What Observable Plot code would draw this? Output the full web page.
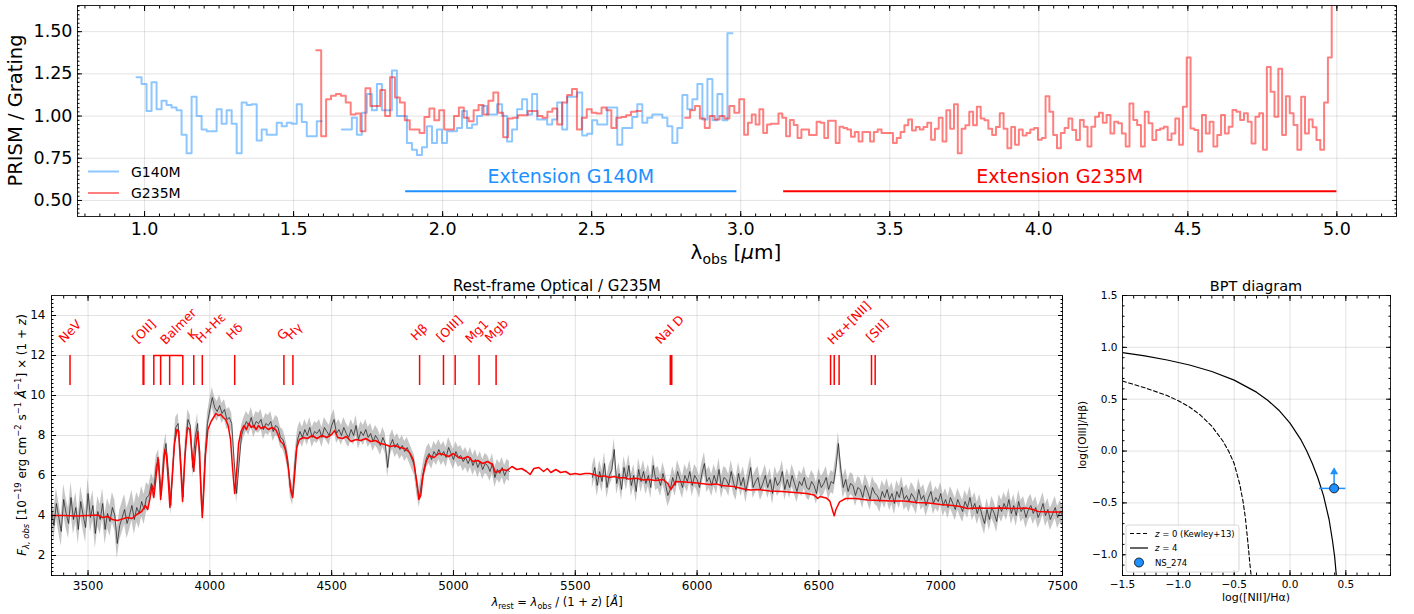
<!DOCTYPE html>
<html><head><meta charset="utf-8">
<script src="https://cdn.jsdelivr.net/npm/d3@7"></script>
<script src="https://cdn.jsdelivr.net/npm/@observablehq/plot@0.6"></script>
<style>
body{margin:0;background:#fff;}
#wrap{position:relative;width:1414px;height:614px;overflow:hidden;background:#fff;}
</style></head><body><div id="wrap"></div>
<script>
// ================= DATA =================
// --- Top panel: PRISM / Grating ratio (binned) ---
const g140mStart = 0.973, g140mStep = 0.0168;
const g140mRatio = [
 1.23,1.19,1.03,1.20,1.04,1.09,1.065,1.05,1.035,0.89,
 0.78,1.115,1.00,0.92,0.91,0.91,1.04,0.955,1.035,0.955,
 0.78,1.08,1.065,1.07,0.855,0.92,0.89,0.89,0.96,0.94,
 0.96,0.955,1.07,0.965,0.88,0.88,0.97,null,null,null,
 null,0.92,0.92,0.99,0.89,1.02,1.13,1.035,1.19,1.035,
 1.035,1.27,1.00,1.00,0.84,0.80,0.77,0.815,0.94,0.84,
 0.92,0.84,0.91,0.91,0.93,1.03,0.93,0.95,1.00,1.06,
 1.01,1.01,1.07,1.00,0.85,0.92,1.04,1.10,1.01,1.13,
 0.98,0.98,0.95,0.98,1.08,0.92,1.115,1.115,1.14,0.885,
 0.895,0.975,0.95,0.95,1.05,1.05,0.83,0.93,0.93,0.995,
 1.07,0.96,0.99,1.01,1.01,0.99,0.94,0.84,0.93,1.125,
 1.04,1.10,1.19,0.98,1.22,0.975,1.13,0.975,1.49
];
const g235mStartA = 1.576, g235mStepA = 0.0165;
const g235mRatioA = [
 1.39,0.88,1.10,1.12,1.13,1.12,1.08,1.01,1.015,0.91,
 1.165,1.06,1.06,1.155,1.00,1.23,1.11,1.08,0.975,0.92,
 0.92,0.90,0.995,1.045,0.975,1.035,0.92,0.92,1.00,1.05,
 0.99,0.97,1.035,1.065,1.01,1.09,1.14,1.02,0.875,0.985,
 0.99,1.005,1.005,1.03,1.03,1.00,0.99,1.025,1.045,0.95,
 1.08,1.125,1.16,0.92,0.99,1.04,1.02,1.015,1.05,1.035,
 0.93,0.99,0.995,1.005,1.025,1.03,null,null,null,null,
 null,null,null,null,null,0.99,1.035,1.06,0.985,0.93,
 1.00,0.98,1.00,0.985,1.06,1.02,1.10
];
const g235mStartB = 3.0115, g235mStepB = 0.0128;
const g235mRatioB = [
 0.89,0.96,1.01,0.95,1.04,0.90,0.95,0.955,0.955,1.015,
 0.99,0.88,0.976,0.947,0.87,0.92,0.92,0.888,0.888,0.966,
 0.96,0.87,0.972,0.972,0.84,0.937,0.93,0.92,0.878,0.905,
 0.85,0.905,0.905,0.85,0.905,0.92,0.90,0.90,0.90,0.84,
 0.87,0.905,0.945,0.98,0.915,0.935,0.92,0.935,0.96,0.86,
 0.925,0.99,0.85,1.035,0.925,1.07,0.78,0.925,0.945,1.026,
 0.945,1.055,0.985,0.975,0.925,0.888,0.935,1.016,0.925,0.81,
 0.935,0.83,0.92,0.885,0.90,0.92,0.93,0.86,0.87,1.118,
 1.025,0.888,0.81,0.90,0.93,0.986,0.917,0.858,0.976,0.937,
 0.82,0.937,0.996,1.02,0.96,1.006,0.897,0.966,0.957,0.897,
 0.82,1.075,0.976,0.947,0.82,1.026,0.957,0.858,0.917,0.927,
 0.937,0.858,0.897,0.986,0.83,1.055,1.347,0.927,0.917,0.79,
 1.006,0.897,0.966,0.82,0.888,1.006,0.897,0.937,1.036,1.026,
 0.976,1.016,0.966,0.838,0.996,1.016,0.80,1.29,1.144,0.996,
 1.28,0.888,1.118,1.016,0.947,0.80,1.115,0.897,0.98,0.933,
 0.858,0.80,1.08,1.347,1.9
];
const extensions = [
 {grating:"G140M", x1:1.876, x2:2.987, y:0.555, labelX:2.43, labelY:0.64},
 {grating:"G235M", x1:3.144, x2:5.0, y:0.555, labelX:4.07, labelY:0.64}
];
const topXTicks = [1.0,1.5,2.0,2.5,3.0,3.5,4.0,4.5,5.0];
const topYTicks = [0.5,0.75,1.0,1.25,1.5];

// --- Bottom-left: rest-frame optical spectrum ---
const obsStartA = 3350, obsStartB = 5570, obsStep = 10;
const obsFluxA = [
 4.3,3.5,4.6,3.9,3.2,4.8,4.1,3.6,4.9,3.8,
 4.4,3.3,4.7,4.0,3.4,5.1,3.9,4.5,3.1,4.2,
 3.8,4.6,3.3,4.1,3.7,4.4,4.0,2.6,3.5,3.9,
 4.3,3.6,4.0,4.5,3.8,4.4,4.1,4.7,4.3,4.9,
 5.0,5.6,5.3,6.5,6.8,5.0,6.9,7.6,6.2,4.5,
 6.8,8.4,8.6,6.9,4.9,7.5,8.8,8.5,6.4,7.9,
 8.6,6.3,4.1,6.9,8.6,9.3,9.9,9.4,9.2,9.5,
 9.1,9.3,8.8,8.9,8.6,6.7,5.1,6.6,8.0,8.4,
 8.7,8.5,8.9,8.4,8.7,8.6,8.8,8.3,8.6,8.5,
 8.7,8.2,8.5,8.4,7.9,7.8,7.4,6.8,5.4,5.0,
 6.7,7.8,8.2,7.9,8.3,8.0,8.4,7.9,8.2,8.1,
 8.3,7.9,8.4,8.2,8.0,8.5,8.8,8.1,8.3,8.0,
 8.4,8.1,7.9,8.3,8.0,8.5,7.8,8.2,8.0,8.3,
 7.9,8.1,7.7,8.0,7.8,7.5,7.9,7.6,6.4,7.5,
 7.8,7.4,7.6,7.3,7.5,7.2,7.4,7.1,6.8,6.5,
 5.5,4.9,5.7,6.4,6.9,7.1,6.8,7.2,7.0,7.3,
 7.0,7.2,6.9,7.4,7.1,6.8,7.2,6.9,7.0,6.7,
 6.9,6.6,6.9,6.5,6.8,6.4,6.7,6.3,6.6,6.5,
 6.2,6.6,5.9,6.3,6.1,6.4,6.0,6.3,6.2
];
const obsFluxB = [
 5.9,6.4,5.5,6.2,5.7,6.6,5.4,6.0,6.3,7.3,
 5.6,6.1,5.3,6.4,5.8,6.5,5.5,6.0,5.2,6.3,
 5.7,6.2,5.6,6.0,5.4,6.5,5.8,5.9,5.5,6.1,
 5.6,5.0,5.3,5.9,5.5,6.2,5.8,5.4,6.0,5.7,
 6.2,5.5,6.0,5.8,5.4,6.1,6.6,5.7,5.9,5.5,
 6.0,5.6,6.3,5.4,5.9,5.8,5.5,6.2,5.6,5.3,
 6.1,5.5,5.9,5.2,5.8,6.4,5.4,5.7,5.9,5.3,
 5.6,6.0,5.4,5.8,5.1,5.9,5.5,5.7,6.2,5.3,
 5.8,5.4,6.0,5.6,5.2,5.7,5.5,5.9,5.4,5.3,
 5.7,5.5,5.1,5.8,5.4,5.6,5.9,5.3,5.7,5.6,
 6.4,7.6,6.3,5.4,5.8,5.2,5.6,5.5,5.0,5.4,
 5.3,4.9,5.5,5.2,4.8,5.4,5.1,5.0,4.7,5.2,
 4.9,5.3,4.8,5.1,4.6,5.2,4.9,5.4,4.8,5.0,
 4.7,5.1,4.9,4.6,5.3,4.8,5.0,4.5,4.9,5.2,
 4.6,4.9,4.7,5.1,4.5,4.8,4.4,4.9,4.6,4.3,
 4.8,4.5,4.2,4.7,4.4,4.9,4.3,4.6,4.1,4.5,
 4.0,3.6,4.3,3.8,4.4,4.1,3.7,4.5,4.2,4.6,
 4.3,4.8,4.1,4.5,4.0,4.7,4.2,4.4,3.9,4.3,
 4.5,4.1,4.4,3.9,4.2,4.6,4.0,4.3,3.8,4.1,
 4.4,3.9,4.2,4.0
];
// flux uncertainty per wavelength range
const obsErr = [
 {from:3340, to:3745, err:0.75},
 {from:3745, to:5240, err:0.5},
 {from:5560, to:7510, err:0.55}
];
const g235mModel = [
[3350,4.0],[3400,4.0],[3450,3.98],[3500,4.0],[3540,4.02],[3560,3.9],[3580,3.95],[3600,3.8],[3620,3.75],[3640,3.82],[3660,3.9],[3680,3.85],[3700,4.05],[3720,4.2],[3735,4.5],[3745,4.3],[3755,4.9],[3762,5.5],[3770,4.9],[3780,6.0],[3787,6.9],[3793,6.0],[3798,4.8],[3806,5.8],[3815,7.3],[3822,7.0],[3830,5.6],[3836,4.4],[3845,5.8],[3855,7.6],[3865,8.3],[3872,8.2],[3880,6.5],[3888,4.7],[3897,6.8],[3908,8.4],[3918,8.3],[3928,6.9],[3934,6.2],[3942,7.4],[3950,8.2],[3958,7.2],[3964,5.0],[3969,3.9],[3975,5.2],[3982,7.0],[3992,8.3],[4005,8.7],[4015,8.9],[4025,9.1],[4035,9.0],[4045,9.05],[4055,8.9],[4065,8.8],[4075,8.5],[4085,7.8],[4093,6.4],[4102,5.1],[4110,6.2],[4118,7.6],[4128,8.2],[4140,8.5],[4150,8.3],[4160,8.6],[4170,8.4],[4180,8.5],[4190,8.3],[4200,8.5],[4210,8.35],[4225,8.45],[4240,8.3],[4255,8.4],[4270,8.3],[4280,8.05],[4290,7.7],[4300,7.6],[4310,7.3],[4322,6.4],[4333,5.2],[4340,4.9],[4348,6.0],[4357,7.4],[4368,7.8],[4385,7.9],[4400,7.85],[4420,8.0],[4440,7.85],[4460,8.0],[4480,7.9],[4500,8.05],[4512,8.25],[4525,7.9],[4545,7.85],[4560,7.95],[4580,7.7],[4600,7.8],[4620,7.75],[4640,7.85],[4660,7.7],[4680,7.75],[4700,7.6],[4720,7.55],[4740,7.45],[4760,7.5],[4780,7.4],[4800,7.35],[4820,7.15],[4835,6.8],[4848,5.8],[4858,4.8],[4866,5.0],[4875,6.0],[4888,6.7],[4900,7.0],[4920,6.9],[4940,7.1],[4960,7.05],[4980,6.95],[5000,7.1],[5020,6.9],[5040,6.85],[5060,6.95],[5080,6.7],[5100,6.75],[5120,6.6],[5140,6.7],[5160,6.55],[5172,6.15],[5185,6.2],[5200,6.3],[5220,6.25],[5240,6.45],[5260,6.3],[5280,6.35],[5300,6.2],[5315,6.05],[5330,6.35],[5350,6.4],[5370,6.2],[5385,6.35],[5400,6.15],[5420,6.3],[5440,6.15],[5460,6.2],[5480,6.05],[5500,6.1],[5520,6.05],[5540,6.1],[5560,6.1],[5575,6.05],[5600,5.95],[5620,5.98],[5640,5.9],[5660,5.95],[5680,5.88],[5700,5.9],[5720,5.82],[5750,5.86],[5780,5.78],[5800,5.8],[5830,5.75],[5860,5.8],[5880,5.6],[5892,5.3],[5900,5.45],[5912,5.7],[5950,5.68],[6000,5.62],[6050,5.55],[6080,5.58],[6100,5.5],[6150,5.45],[6200,5.3],[6220,5.28],[6250,5.3],[6300,5.22],[6350,5.2],[6400,5.15],[6450,5.1],[6480,5.03],[6495,4.85],[6505,4.95],[6530,4.88],[6545,4.72],[6555,4.3],[6563,3.98],[6570,4.3],[6585,4.68],[6610,4.85],[6650,4.85],[6700,4.78],[6750,4.75],[6800,4.72],[6850,4.72],[6900,4.65],[6950,4.62],[7000,4.55],[7050,4.5],[7080,4.45],[7110,4.35],[7150,4.37],[7200,4.36],[7250,4.38],[7300,4.35],[7350,4.37],[7380,4.3],[7400,4.2],[7450,4.18],[7500,4.17]
];
const specLines = [
 {name:"NeV", waves:[3426], lx:3427, ly:13.2},
 {name:"[OII]", waves:[3726,3729], lx:3730, ly:13.2},
 {name:"Balmer", waves:[3770,3798,3835,3889], lx:3871, ly:13.45},
 {name:"K", waves:[3934], lx:3930, ly:13.05},
 {name:"H+Hε", waves:[3969], lx:4004, ly:13.37},
 {name:"Hδ", waves:[4102], lx:4102, ly:13.2},
 {name:"G", waves:[4304], lx:4300, ly:13.05},
 {name:"Hγ", waves:[4341], lx:4347, ly:13.2},
 {name:"Hβ", waves:[4861], lx:4860, ly:13.16},
 {name:"[OIII]", waves:[4959,5007], lx:4984, ly:13.34},
 {name:"Mg1", waves:[5105], lx:5097, ly:13.2},
 {name:"Mgb", waves:[5175], lx:5177, ly:13.24},
 {name:"NaI D", waves:[5890,5896], lx:5888, ly:13.29},
 {name:"Hα+[NII]", waves:[6548,6563,6583], lx:6625, ly:13.62},
 {name:"[SII]", waves:[6716,6731], lx:6740, ly:13.24}
];
const markerRange = [10.5, 12];
const specXTicks = [3500,4000,4500,5000,5500,6000,6500,7000,7500];
const specYTicks = [2,4,6,8,10,12,14];

// --- BPT diagram ---
const kewleyZ0 = [[-1.5,0.675],[-1.3,0.61],[-1.1,0.535],[-1.0,0.485],[-0.9,0.425],[-0.8,0.345],[-0.7,0.24],[-0.6,0.095],[-0.55,0.0],[-0.5,-0.12],[-0.45,-0.32],[-0.42,-0.49],[-0.4,-0.64],[-0.38,-0.85],[-0.37,-0.96],[-0.36,-1.08],[-0.348,-1.2]];
const kewleyZ4 = [[-1.5,0.949],[-1.3,0.917],[-1.1,0.878],[-0.9,0.83],[-0.7,0.767],[-0.5,0.684],[-0.3,0.568],[-0.2,0.49],[-0.1,0.394],[0.0,0.27],[0.1,0.105],[0.15,0.0],[0.2,-0.12],[0.25,-0.26],[0.3,-0.43],[0.35,-0.66],[0.38,-0.86],[0.40,-1.02],[0.415,-1.2]];
const ns274 = [{name:"NS_274", x:0.395, y:-0.36, xlo:0.265, xhi:0.5, yLimit:-0.2}];
const bptXTicks = [-1.5,-1.0,-0.5,0.0,0.5];
const bptYTicks = [-1.0,-0.5,0.0,0.5,1.0,1.5];

// ================= RENDER =================
const FONT = "'DejaVu Sans', sans-serif";
const BLUE = "#1e90ff", RED = "#ff0000";
const wrap = document.getElementById("wrap");
function place(el, left, top){ el.style.position="absolute"; el.style.left=left+"px"; el.style.top=top+"px"; el.style.maxWidth="none"; el.style.overflow="visible"; wrap.appendChild(el); }

function steps(start, step, vals){
  const out = [];
  vals.forEach((v,i)=>{
    const x0 = start + i*step, x1 = x0 + step;
    if (v == null) { out.push({x:x0, y:NaN}); return; }
    out.push({x:x0, y:v}, {x:x1, y:v});
  });
  return out;
}
const blank = () => "";
function frameAxes(xMaj, xMin, yMaj, yMin, xFmt, yFmt, fs, padX, padY){
  const T = 5, t = 2.5;
  return [
    Plot.axisX(xMin, {anchor:"bottom", tickSize:-t, tickFormat:blank, label:null}),
    Plot.axisX(xMin, {anchor:"top", tickSize:-t, tickFormat:blank, label:null}),
    Plot.axisY(yMin, {anchor:"left", tickSize:-t, tickFormat:blank, label:null}),
    Plot.axisY(yMin, {anchor:"right", tickSize:-t, tickFormat:blank, label:null}),
    Plot.axisX(xMaj, {anchor:"bottom", tickSize:-T, tickPadding:padX+T, tickFormat:xFmt, label:null, fontSize:fs}),
    Plot.axisX(xMaj, {anchor:"top", tickSize:-T, tickFormat:blank, label:null}),
    Plot.axisY(yMaj, {anchor:"left", tickSize:-T, tickPadding:padY+T, tickFormat:yFmt, label:null, fontSize:fs}),
    Plot.axisY(yMaj, {anchor:"right", tickSize:-T, tickFormat:blank, label:null})
  ];
}
function richText(svg, x, y, rot, size, parts, anchor="middle", fill="#000"){
  const t = d3.select(svg).append("text")
    .attr("transform", `translate(${x},${y}) rotate(${rot})`)
    .attr("text-anchor", anchor).attr("font-family", FONT)
    .attr("font-size", size).attr("fill", fill);
  let shift = 0;
  for (const p of parts){
    const target = p.sub ? size*0.25 : p.sup ? -size*0.4 : 0;
    const ts = t.append("tspan").text(p.t).attr("dy", target - shift);
    shift = target;
    if (p.sub || p.sup) ts.attr("font-size", size*0.7);
    if (p.it) ts.attr("font-style", "italic");
  }
  return t;
}
const gridStyle = {stroke:"#b0b0b0", strokeOpacity:0.45, strokeWidth:0.8};

// ---------- TOP PANEL ----------
const blueSteps = steps(g140mStart, g140mStep, g140mRatio);
const redSteps = steps(g235mStartA, g235mStepA, g235mRatioA).concat(steps(g235mStartB, g235mStepB, g235mRatioB));
const topXMinor = d3.range(16, 105).map(i => +(i*0.05).toFixed(2));
const topYMinor = d3.range(17, 67).map(i => +(i*0.025).toFixed(3));
const topSvg = Plot.plot({
  width:1414, height:270,
  marginLeft:77, marginRight:18, marginTop:5, marginBottom:54,
  x:{domain:[0.775,5.2], axis:null},
  y:{domain:[0.405,1.655], axis:null},
  style:{fontFamily:FONT, color:"#000", background:"transparent"},
  marks:[
    Plot.gridX(topXTicks, gridStyle),
    Plot.gridY(topYTicks, gridStyle),
    Plot.line(blueSteps, {x:"x", y:"y", stroke:BLUE, strokeOpacity:0.5, strokeWidth:2, clip:true}),
    Plot.line(redSteps, {x:"x", y:"y", stroke:RED, strokeOpacity:0.5, strokeWidth:2, clip:true}),
    Plot.ruleY(extensions.filter(d=>d.grating==="G140M"), {y:"y", x1:"x1", x2:"x2", stroke:BLUE, strokeWidth:2}),
    Plot.ruleY(extensions.filter(d=>d.grating==="G235M"), {y:"y", x1:"x1", x2:"x2", stroke:RED, strokeWidth:2}),
    Plot.text(extensions.filter(d=>d.grating==="G140M"), {x:"labelX", y:"labelY", text:d=>"Extension "+d.grating, fill:BLUE, fontSize:19}),
    Plot.text(extensions.filter(d=>d.grating==="G235M"), {x:"labelX", y:"labelY", text:d=>"Extension "+d.grating, fill:RED, fontSize:19}),
    Plot.frame({stroke:"#222", strokeWidth:1}),
    ...frameAxes(topXTicks, topXMinor, topYTicks, topYMinor, d3.format(".1f"), d3.format(".2f"), 17.5, 6, 5)
  ]
});
place(topSvg, 0, 0);
richText(topSvg, 22, 110.5, -90, 19.5, [{t:"PRISM / Grating"}]);
richText(topSvg, 736, 259, 0, 20, [{t:"λ"},{t:"obs", sub:true},{t:" ["},{t:"μ", it:true},{t:"m]"}]);
// legend
{
  const g = d3.select(topSvg).append("g");
  [["G140M",BLUE,171.5],["G235M",RED,193]].forEach(([n,c,y])=>{
    g.append("line").attr("x1",88).attr("x2",119).attr("y1",y).attr("y2",y).attr("stroke",c).attr("stroke-opacity",0.5).attr("stroke-width",2);
    richText(topSvg, 131, y+5, 0, 14, [{t:n}], "start");
  });
}

// ---------- BOTTOM-LEFT: SPECTRUM ----------
function errFor(w){ const r = obsErr.find(o => w >= o.from && w < o.to); return r ? r.err : 0.5; }
const obsA = obsFluxA.map((f,i)=>{ const w = obsStartA + i*obsStep; return {w, f, e:errFor(w)}; });
const obsB = obsFluxB.map((f,i)=>{ const w = obsStartB + i*obsStep; return {w, f, e:errFor(w)}; });
const markerRows = specLines.flatMap(l => l.waves.map(w => ({name:l.name, w})));
const balmer = specLines.filter(l => l.name==="Balmer");
const specSvg = Plot.plot({
  width:1066, height:344,
  marginLeft:51, marginRight:4, marginTop:25, marginBottom:39,
  x:{domain:[3350,7500], axis:null},
  y:{domain:[1,15], axis:null},
  style:{fontFamily:FONT, color:"#000", background:"transparent"},
  marks:[
    Plot.gridX(specXTicks, gridStyle),
    Plot.gridY(specYTicks, gridStyle),
    Plot.areaY(obsA, {x:"w", y1:d=>d.f-d.e, y2:d=>d.f+d.e, fill:"#8c8c8c", fillOpacity:0.5}),
    Plot.areaY(obsB, {x:"w", y1:d=>d.f-d.e, y2:d=>d.f+d.e, fill:"#8c8c8c", fillOpacity:0.5}),
    Plot.line(obsA, {x:"w", y:"f", stroke:"#111", strokeOpacity:0.85, strokeWidth:0.8}),
    Plot.line(obsB, {x:"w", y:"f", stroke:"#111", strokeOpacity:0.85, strokeWidth:0.8}),
    Plot.line(g235mModel, {x:d=>d[0], y:d=>d[1], stroke:RED, strokeWidth:1.5}),
    Plot.ruleX(markerRows, {x:"w", y1:markerRange[0], y2:markerRange[1], stroke:RED, strokeWidth:1.5}),
    Plot.ruleY(balmer, {y:markerRange[1], x1:d=>d3.min(d.waves), x2:d=>d3.max(d.waves), stroke:RED, strokeWidth:1.5}),
    Plot.text(specLines, {x:"lx", y:"ly", text:"name", rotate:-45, fill:RED, fontSize:12.5}),
    Plot.frame({stroke:"#222", strokeWidth:1}),
    ...frameAxes(specXTicks, d3.range(3350,7501,50), specYTicks, d3.range(5,75).map(i=>+(i*0.2).toFixed(1)), d3.format("d"), d3.format("d"), 12, 6, 6)
  ]
});
place(specSvg, 0, 270);
richText(specSvg, 557, 21, 0, 15, [{t:"Rest-frame Optical / G235M"}]);
richText(specSvg, 557, 336, 0, 11.5, [{t:"λ", it:true},{t:"rest", sub:true},{t:" = "},{t:"λ", it:true},{t:"obs", sub:true},{t:" / (1 + "},{t:"z", it:true},{t:") ["},{t:"Å", it:true},{t:"]"}]);
richText(specSvg, 26, 165, -90, 12, [{t:"F", it:true},{t:"λ, obs", sub:true, it:true},{t:" [10"},{t:"−19", sup:true},{t:" erg cm"},{t:"−2", sup:true},{t:" s"},{t:"−1", sup:true},{t:" "},{t:"Å", it:true},{t:"−1", sup:true},{t:"] × (1 + "},{t:"z", it:true},{t:")"}]);

// ---------- BPT ----------
const bptSvg = Plot.plot({
  width:348, height:344,
  marginLeft:56, marginRight:24, marginTop:25, marginBottom:39,
  x:{domain:[-1.5,0.9], axis:null},
  y:{domain:[-1.2,1.5], axis:null},
  style:{fontFamily:FONT, color:"#000", background:"transparent"},
  marks:[
    Plot.gridX(bptXTicks, gridStyle),
    Plot.gridY(bptYTicks, gridStyle),
    Plot.line(kewleyZ0, {x:d=>d[0], y:d=>d[1], stroke:"#000", strokeWidth:1.1, strokeDasharray:"4,2.5", clip:true}),
    Plot.line(kewleyZ4, {x:d=>d[0], y:d=>d[1], stroke:"#000", strokeWidth:1.2, clip:true}),
    Plot.ruleY(ns274, {y:"y", x1:"xlo", x2:"xhi", stroke:BLUE, strokeWidth:1.5}),
    Plot.ruleX(ns274, {x:"x", y1:"y", y2:"yLimit", stroke:BLUE, strokeWidth:1.5}),
    Plot.dot(ns274, {x:"x", y:"yLimit", symbol:"triangle", r:3, fill:BLUE}),
    Plot.dot(ns274, {x:"x", y:"y", r:4.5, fill:BLUE, stroke:"#000", strokeWidth:0.8}),
    Plot.frame({stroke:"#222", strokeWidth:1}),
    ...frameAxes(bptXTicks, d3.range(-15,10).map(i=>i/10), bptYTicks, d3.range(-12,16).map(i=>i/10), d3.format(".1f"), d3.format(".1f"), 10.5, 5, 5)
  ]
});
place(bptSvg, 1066, 270);
richText(bptSvg, 190, 21, 0, 14.5, [{t:"BPT diagram"}]);
richText(bptSvg, 190, 331, 0, 11, [{t:"log([NII]/Hα)"}]);
richText(bptSvg, 20, 165, -90, 10.5, [{t:"log([OIII]/Hβ)"}]);
{
  const g = d3.select(bptSvg).append("g");
  g.append("rect").attr("x",60).attr("y",255).attr("width",113).attr("height",47).attr("rx",2.5)
    .attr("fill","#fff").attr("fill-opacity",0.85).attr("stroke","#ccc").attr("stroke-width",0.8);
  g.append("line").attr("x1",64).attr("x2",82).attr("y1",263.5).attr("y2",263.5).attr("stroke","#000").attr("stroke-width",1.1).attr("stroke-dasharray","4,2.5");
  g.append("line").attr("x1",64).attr("x2",82).attr("y1",278).attr("y2",278).attr("stroke","#000").attr("stroke-width",1.2);
  g.append("circle").attr("cx",73).attr("cy",292.5).attr("r",4.5).attr("fill",BLUE).attr("stroke","#000").attr("stroke-width",0.8);
  richText(bptSvg, 89, 266.5, 0, 8.5, [{t:"z", it:true},{t:" = 0 (Kewley+13)"}], "start");
  richText(bptSvg, 89, 281, 0, 8.5, [{t:"z", it:true},{t:" = 4"}], "start");
  richText(bptSvg, 89, 295.5, 0, 8.5, [{t:ns274[0].name}], "start");
}
</script></body></html>
